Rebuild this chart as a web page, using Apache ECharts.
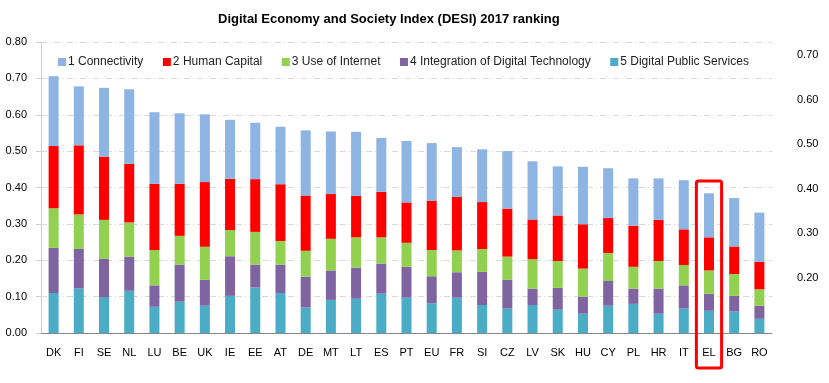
<!DOCTYPE html>
<html><head><meta charset="utf-8">
<script src="https://cdn.jsdelivr.net/npm/echarts@6/dist/echarts.min.js"></script>
<style>html,body{margin:0;padding:0;background:#fff}#c{width:829px;height:383px}</style>
</head><body><div id="c"></div>
<script>
const categories = ['DK','FI','SE','NL','LU','BE','UK','IE','EE','AT','DE','MT','LT','ES','PT','EU','FR','SI','CZ','LV','SK','HU','CY','PL','HR','IT','EL','BG','RO'];
const digitalPublicServices = [0.110,0.122,0.099,0.116,0.072,0.086,0.075,0.102,0.125,0.110,0.070,0.091,0.094,0.108,0.097,0.082,0.097,0.077,0.067,0.077,0.064,0.053,0.075,0.080,0.053,0.067,0.061,0.059,0.039];
const integrationDigitalTech = [0.124,0.109,0.105,0.094,0.059,0.102,0.071,0.109,0.063,0.078,0.085,0.081,0.086,0.083,0.085,0.074,0.070,0.091,0.080,0.045,0.060,0.047,0.068,0.042,0.069,0.064,0.047,0.043,0.036];
const useOfInternet = [0.109,0.095,0.107,0.094,0.097,0.079,0.091,0.072,0.090,0.065,0.071,0.087,0.083,0.072,0.066,0.072,0.060,0.063,0.063,0.081,0.074,0.077,0.077,0.060,0.076,0.056,0.064,0.060,0.045];
const humanCapital = [0.171,0.190,0.174,0.161,0.182,0.143,0.178,0.141,0.145,0.156,0.152,0.123,0.114,0.125,0.111,0.136,0.147,0.129,0.132,0.109,0.125,0.122,0.096,0.113,0.113,0.098,0.091,0.076,0.076];
const connectivity = [0.192,0.162,0.189,0.205,0.197,0.194,0.186,0.162,0.155,0.158,0.179,0.172,0.176,0.148,0.169,0.158,0.137,0.145,0.158,0.160,0.135,0.158,0.137,0.130,0.114,0.135,0.121,0.133,0.135];
const leftTicks = [0, 0.8, 0.1];
const rightTicks = [0.1, 0.7, 0.1];
const seriesNames = ['1 Connectivity','2 Human Capital','3 Use of Internet','4 Integration of Digital Technology','5 Digital Public Services'];
const colors = ['#8DB4E2','#FF0000','#92D050','#8064A2','#4BACC6'];
const highlight = 'EL';

const FONT = "'Liberation Sans', sans-serif";
const chart = echarts.init(document.getElementById('c'), null, {renderer: 'canvas'});
const dataByName = {
  '1 Connectivity': connectivity,
  '2 Human Capital': humanCapital,
  '3 Use of Internet': useOfInternet,
  '4 Integration of Digital Technology': integrationDigitalTech,
  '5 Digital Public Services': digitalPublicServices
};
const stackOrder = seriesNames.slice().reverse();
const series = stackOrder.map(n => ({
  name: n, type: 'bar', stack: 'desi', barWidth: 10,
  itemStyle: {color: colors[seriesNames.indexOf(n)]},
  data: dataByName[n], xAxisIndex: 0, yAxisIndex: 0,
  emphasis: {disabled: true}
}));
chart.setOption({
  animation: false,
  backgroundColor: '#fff',
  title: {text: 'Digital Economy and Society Index (DESI) 2017 ranking', left: 213, top: 8,
    textStyle: {fontFamily: FONT, fontSize: 13, fontWeight: 'bold', color: '#000'}},
  legend: {data: seriesNames, top: 51, left: 53, itemWidth: 8, itemHeight: 8, itemGap: 19.5,
    icon: 'rect',
    textStyle: {fontFamily: FONT, fontSize: 12, color: '#222', padding: [0,0,0,-3]}},
  grid: [
    {left: 41, right: 57, top: 42, bottom: 50},
    {left: 41, right: 57, top: 55, bottom: 61}
  ],
  xAxis: [
    {type: 'category', data: categories, gridIndex: 0,
     axisLine: {lineStyle: {color: '#868686'}},
     axisTick: {length: 5, lineStyle: {color: '#868686'}},
     axisLabel: {fontFamily: FONT, fontSize: 11, color: '#000', margin: 14, interval: 0}},
    {type: 'category', data: categories, gridIndex: 1, show: false}
  ],
  yAxis: [
    {type: 'value', gridIndex: 0, min: leftTicks[0], max: leftTicks[1], interval: leftTicks[2],
     axisLine: {show: true, lineStyle: {color: '#D0D0D0'}},
     axisTick: {show: true, length: 5, lineStyle: {color: '#D0D0D0'}},
     axisLabel: {fontFamily: FONT, fontSize: 11, color: '#000', margin: 14, formatter: v => v.toFixed(2)},
     splitLine: {lineStyle: {color: '#D9D9D9', type: [6,3,1,3]}}},
    {type: 'value', gridIndex: 1, position: 'right', min: rightTicks[0], max: rightTicks[1], interval: rightTicks[2],
     axisLine: {show: false}, axisTick: {show: false}, splitLine: {show: false},
     axisLabel: {fontFamily: FONT, fontSize: 11, color: '#000', margin: 25,
       formatter: v => (Math.abs(v - 0.1) < 1e-6 ? '' : v.toFixed(2))}}
  ],
  series: series
});
const cx = chart.convertToPixel({xAxisIndex: 0}, highlight);
const boxTop = chart.convertToPixel({yAxisIndex: 0}, 0.418);
const bw = chart.getModel().getComponent('xAxis', 0).axis.getBandWidth();
chart.setOption({graphic: [{type: 'rect', shape: {x: cx - bw/2, y: boxTop, width: bw, height: 368 - boxTop, r: 2},
  style: {fill: 'none', stroke: '#FF0000', lineWidth: 3}, z: 100}]});
</script></body></html>
